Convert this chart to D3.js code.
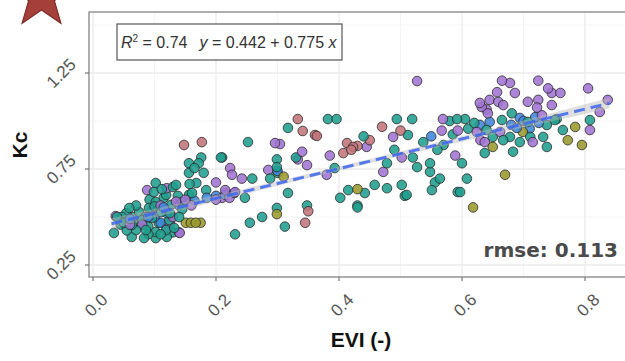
<!DOCTYPE html>
<html>
<head>
<meta charset="utf-8">
<script src="https://cdn.jsdelivr.net/npm/d3@7"></script>
<style>
  body { margin: 0; background: #fff; }
  svg { display: block; }
</style>
</head>
<body>
<script>
// values (x = EVI, y = Kc)
const xTicks = [0.0, 0.2, 0.4, 0.6, 0.8];
const yTicks = [0.25, 0.75, 1.25];
const xMinor = [0.1, 0.3, 0.5, 0.7];
const yMinor = [0.5, 1.0, 1.5];

const tealPts = [
  [0.102,0.677],[0.099,0.63],[0.135,0.667],[0.119,0.615],[0.102,0.578],[0.059,0.547],[0.075,0.526],
  [0.091,0.547],[0.111,0.526],[0.127,0.563],[0.145,0.578],[0.156,0.615],[0.08,0.484],[0.096,0.495],
  [0.107,0.469],[0.124,0.484],[0.063,0.458],[0.047,0.5],[0.07,0.432],[0.086,0.432],[0.102,0.422],
  [0.119,0.432],[0.034,0.417],[0.063,0.396],[0.083,0.39],[0.102,0.39],[0.12,0.396],[0.132,0.443],
  [0.156,0.78],[0.172,0.78],[0.18,0.73],[0.168,0.677],[0.156,0.73],[0.176,0.81],[0.184,0.64],
  [0.208,0.81],[0.054,0.52],[0.13,0.656],[0.157,0.672],[0.161,0.625],[0.039,0.5],[0.09,0.45],
  [0.045,0.46],[0.055,0.43],[0.075,0.47],[0.09,0.41],[0.11,0.41],[0.13,0.42],[0.125,0.52],
  [0.14,0.5],[0.085,0.5],[0.1,0.555],[0.115,0.6],[0.138,0.61],[0.145,0.54],[0.065,0.5],
  [0.07,0.56],[0.05,0.47],[0.092,0.59],[0.112,0.645],[0.165,0.755],
  [0.21,0.81],[0.252,0.89],[0.317,0.964],[0.382,1.01],[0.396,1.01],[0.33,0.81],[0.299,0.80],
  [0.299,0.76],[0.30,0.73],[0.288,0.70],[0.259,0.70],[0.247,0.60],[0.317,0.625],[0.402,0.60],
  [0.415,0.64],[0.43,0.55],[0.299,0.547],[0.348,0.56],[0.275,0.5],[0.255,0.47],[0.312,0.45],
  [0.231,0.41],[0.393,0.755],[0.442,0.625],[0.43,0.56],[0.458,0.667],[0.478,0.65],[0.502,0.667],
  [0.51,0.615],[0.551,0.64],[0.597,0.63],[0.494,1.01],[0.519,1.01],[0.44,0.92],[0.512,0.927],
  [0.537,0.89],[0.58,1.0],[0.592,1.01],[0.605,1.01],[0.56,0.85],[0.57,0.875],[0.49,0.85],
  [0.52,0.81],[0.527,0.76],[0.478,0.78],[0.548,0.78],[0.548,0.735],[0.60,0.78],[0.564,0.70],
  [0.556,0.68],[0.608,0.70],[0.593,0.63],[0.507,0.61],[0.637,0.833],[0.808,1.005],[0.764,0.953],
  [0.754,1.01],[0.738,0.865],[0.683,0.84],[0.681,1.04],[0.665,1.005],[0.707,0.995],[0.738,0.979],
  [0.711,0.917],[0.678,0.917],[0.65,0.917],[0.64,0.953],[0.667,0.9],[0.694,0.89],[0.732,0.917],
  [0.751,1.005],[0.61,0.96],[0.62,0.99],[0.585,0.93]
];
const purplePts = [
  [0.037,0.505],[0.14,0.42],[0.2,0.68],[0.216,0.625],[0.2,0.59],[0.11,0.56],[0.088,0.64],
  [0.13,0.5],[0.06,0.46],[0.12,0.44],[0.15,0.59],[0.096,0.536],[0.125,0.47],[0.141,0.417],
  [0.045,0.48],[0.08,0.46],[0.135,0.58],[0.12,0.65],[0.16,0.56],
  [0.296,0.885],[0.304,0.88],[0.34,0.84],[0.333,0.80],[0.348,0.77],[0.385,0.82],[0.285,0.745],
  [0.223,0.755],[0.226,0.72],[0.242,0.70],[0.215,0.64],[0.231,0.63],[0.21,0.60],[0.222,0.60],
  [0.38,0.72],[0.527,1.208],[0.488,0.917],[0.445,0.865],[0.567,0.95],[0.569,1.01],[0.593,0.95],
  [0.502,0.81],[0.472,0.735],[0.589,0.82],[0.665,1.21],[0.678,1.198],[0.724,1.21],[0.805,1.17],
  [0.686,1.146],[0.657,1.15],[0.74,1.17],[0.746,1.146],[0.76,1.146],[0.645,1.11],[0.659,1.10],
  [0.667,1.083],[0.707,1.10],[0.724,1.11],[0.722,1.07],[0.746,1.083],[0.837,1.11],[0.824,1.047],
  [0.632,1.073],[0.642,1.04],[0.808,0.953],[0.73,1.03],[0.662,0.943],[0.637,0.89],[0.715,0.89],
  [0.629,1.094],[0.64,1.06],[0.624,0.943],[0.63,0.90]
];
const rosePts = [
  [0.148,0.875],[0.177,0.89],[0.333,1.01],[0.341,0.948],[0.364,0.922],[0.35,0.53],[0.345,0.47],
  [0.47,0.97],[0.5,0.95],[0.45,0.90],[0.423,0.865],[0.413,0.885],[0.407,0.833],[0.42,0.85],
  [0.361,0.927],[0.43,0.87]
];
const olivePts = [
  [0.151,0.47],[0.159,0.47],[0.167,0.47],[0.175,0.47],[0.299,0.515],[0.43,0.645],[0.618,0.55],
  [0.784,0.969],[0.772,0.90],[0.795,0.875],[0.65,0.865],[0.67,0.72],[0.699,0.943],[0.31,0.71]
];
const bluePts = [
  [0.694,1.016],[0.719,1.02],[0.689,0.964],[0.645,0.995],[0.629,0.98],[0.09,0.5],[0.11,0.47],
  [0.12,0.52],[0.06,0.49],[0.55,0.92],[0.3,0.74],[0.14,0.56],[0.71,0.96],
  [0.185,0.6],[0.2,0.61],[0.215,0.615],[0.23,0.625],[0.165,0.585],[0.1,0.5],[0.115,0.55],
  [0.7,1.0],[0.68,0.98],[0.725,0.99]
];

// fitted line and its confidence half-width read at a few EVI values
const fitIntercept = 0.442, fitSlope = 0.775;
const bandX = [0.03, 0.25, 0.45, 0.65, 0.84];
const bandHalf = [0.028, 0.014, 0.011, 0.016, 0.028];
const statText = { r2: "0.74", a: "0.442", b: "0.775", rmse: "0.113" };

const width = 625, height = 361;
const pLeft = 89, pRight = 626, pTop = 12, pBottom = 277;

const svg = d3.select("body").append("svg")
  .attr("width", width).attr("height", height);

const x = d3.scaleLinear().domain([0, 0.8]).range([93, 585]);
const y = d3.scaleLinear().domain([0.25, 1.25]).range([265, 73]);

// star decoration, top-left
const star = [];
for (let i = 0; i < 10; i++) {
  let r = i % 2 == 0 ? 33 : 13.5;
  let a = -Math.PI / 2 + i * Math.PI / 5;
  star.push([41.5 + r * Math.cos(a), -3.5 + r * Math.sin(a)]);
}
svg.append("path")
  .attr("d", d3.line()(star) + "Z")
  .attr("fill", "#a53f3a")
  .attr("stroke", "#7d2c28")
  .attr("stroke-width", 1.2);

// panel
svg.append("rect")
  .attr("x", pLeft).attr("y", pTop)
  .attr("width", pRight - pLeft).attr("height", pBottom - pTop)
  .attr("fill", "#fff");

const grid = svg.append("g");
xMinor.forEach(d => {
  grid.append("line").attr("x1", x(d)).attr("x2", x(d)).attr("y1", pTop).attr("y2", pBottom)
    .attr("stroke", "#f4f4f4").attr("stroke-width", 1);
});
yMinor.forEach(d => {
  grid.append("line").attr("x1", pLeft).attr("x2", pRight).attr("y1", y(d)).attr("y2", y(d))
    .attr("stroke", "#f4f4f4").attr("stroke-width", 1);
});
xTicks.forEach(d => {
  grid.append("line").attr("x1", x(d)).attr("x2", x(d)).attr("y1", pTop).attr("y2", pBottom)
    .attr("stroke", "#ebebeb").attr("stroke-width", 1.3);
});
yTicks.forEach(d => {
  grid.append("line").attr("x1", pLeft).attr("x2", pRight).attr("y1", y(d)).attr("y2", y(d))
    .attr("stroke", "#ebebeb").attr("stroke-width", 1.3);
});

// points
const groups = [
  { pts: tealPts, fill: "#1f9e8e" },
  { pts: purplePts, fill: "#a274d3" },
  { pts: rosePts, fill: "#c27479" },
  { pts: bluePts, fill: "#3d86db" },
  { pts: olivePts, fill: "#9a9a2c" }
];
// interleave a bit so colours overlap like the original
let allPts = [];
groups.forEach(g => g.pts.forEach((p, i) => allPts.push({ x: p[0], y: p[1], fill: g.fill, k: (i * 37) % 101 })));
allPts.sort((a, b) => a.k - b.k);

svg.append("g").selectAll("circle")
  .data(allPts)
  .enter()
  .append("circle")
  .attr("cx", d => x(d.x))
  .attr("cy", d => y(d.y))
  .attr("r", 4.8)
  .attr("fill", d => d.fill)
  .attr("fill-opacity", 0.88)
  .attr("stroke", "#2a2a2a")
  .attr("stroke-width", 0.8);

// confidence ribbon + dashed fit line
const band = bandX.map((bx, i) => ({ x: bx, y0: fitIntercept + fitSlope * bx - bandHalf[i], y1: fitIntercept + fitSlope * bx + bandHalf[i] }));
svg.append("path")
  .datum(band)
  .attr("d", d3.area().curve(d3.curveMonotoneX).x(d => x(d.x)).y0(d => y(d.y0)).y1(d => y(d.y1)))
  .attr("fill", "#b9b9b9")
  .attr("fill-opacity", 0.45);

svg.append("line")
  .attr("x1", x(bandX[0])).attr("y1", y(fitIntercept + fitSlope * bandX[0]))
  .attr("x2", x(bandX[bandX.length - 1])).attr("y2", y(fitIntercept + fitSlope * bandX[bandX.length - 1]))
  .attr("stroke", "#3d67f0")
  .attr("stroke-width", 3)
  .attr("stroke-dasharray", "11,6")
  .attr("stroke-opacity", 0.85);

// panel border
svg.append("rect")
  .attr("x", pLeft).attr("y", pTop)
  .attr("width", pRight - pLeft).attr("height", pBottom - pTop)
  .attr("fill", "none").attr("stroke", "#7a7a7a").attr("stroke-width", 1.2);

// axes ticks + labels
const tickCol = "#777";
xTicks.forEach(d => {
  svg.append("line").attr("x1", x(d)).attr("x2", x(d)).attr("y1", pBottom).attr("y2", pBottom + 4)
    .attr("stroke", tickCol).attr("stroke-width", 1.2);
  svg.append("text")
    .attr("transform", "translate(" + (x(d) + 3) + "," + 305 + ") rotate(-45)")
    .attr("text-anchor", "middle").attr("dy", "0.35em")
    .attr("font-family", "Liberation Sans, Arial, sans-serif")
    .attr("font-size", 17).attr("fill", "#555")
    .text(d3.format(".1f")(d));
});
yTicks.forEach(d => {
  svg.append("line").attr("x1", pLeft - 4).attr("x2", pLeft).attr("y1", y(d)).attr("y2", y(d))
    .attr("stroke", tickCol).attr("stroke-width", 1.2);
  svg.append("text")
    .attr("transform", "translate(" + 61 + "," + y(d) + ") rotate(-45)")
    .attr("text-anchor", "middle").attr("dy", "0.35em")
    .attr("font-family", "Liberation Sans, Arial, sans-serif")
    .attr("font-size", 17).attr("fill", "#555")
    .text(d3.format(".2f")(d));
});

// axis titles
svg.append("text")
  .attr("x", 361).attr("y", 347)
  .attr("text-anchor", "middle")
  .attr("font-family", "Liberation Sans, Arial, sans-serif")
  .attr("font-weight", "bold").attr("font-size", 21).attr("fill", "#111")
  .text("EVI (-)");
svg.append("text")
  .attr("transform", "translate(27,145) rotate(-90)")
  .attr("text-anchor", "middle")
  .attr("font-family", "Liberation Sans, Arial, sans-serif")
  .attr("font-weight", "bold").attr("font-size", 21).attr("fill", "#111")
  .text("Kc");

// equation box
svg.append("rect")
  .attr("x", 117).attr("y", 24).attr("width", 225).attr("height", 36)
  .attr("fill", "#fff").attr("stroke", "#555").attr("stroke-width", 1.2);
const eq = svg.append("text")
  .attr("x", 121).attr("y", 48)
  .attr("font-family", "Liberation Sans, Arial, sans-serif")
  .attr("font-size", 16).attr("fill", "#333");
eq.append("tspan").attr("font-style", "italic").text("R");
eq.append("tspan").attr("dy", -6).attr("font-size", 10).text("2");
eq.append("tspan").attr("dy", 6).text(" = " + statText.r2);
eq.append("tspan").attr("dx", 12).attr("font-style", "italic").text("y");
eq.append("tspan").text(" = " + statText.a + " + " + statText.b + " ");
eq.append("tspan").attr("font-style", "italic").text("x");

// rmse
svg.append("text")
  .attr("x", 618).attr("y", 257)
  .attr("text-anchor", "end")
  .attr("font-family", "DejaVu Sans, Verdana, sans-serif")
  .attr("font-weight", "bold").attr("font-size", 20).attr("fill", "#4a4a4a")
  .text("rmse: " + statText.rmse);
</script>
</body>
</html>
